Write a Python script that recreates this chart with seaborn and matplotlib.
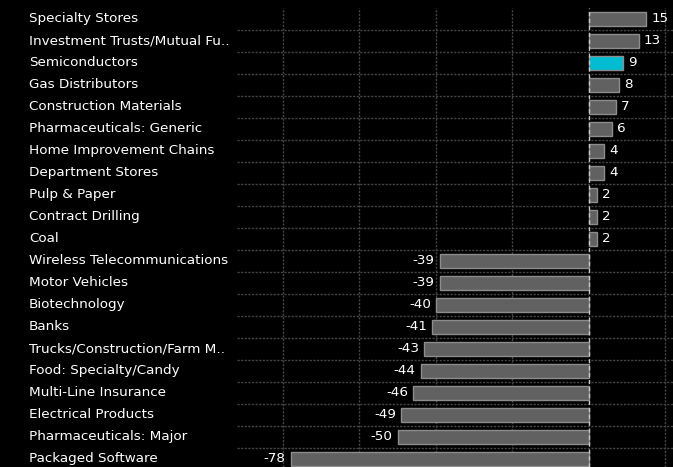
import matplotlib
matplotlib.use("Agg")
import matplotlib.pyplot as plt
import matplotlib.transforms as mtransforms
import seaborn as sns

categories = [
    "Specialty Stores", "Investment Trusts/Mutual Fu..", "Semiconductors",
    "Gas Distributors", "Construction Materials", "Pharmaceuticals: Generic",
    "Home Improvement Chains", "Department Stores", "Pulp & Paper",
    "Contract Drilling", "Coal", "Wireless Telecommunications",
    "Motor Vehicles", "Biotechnology", "Banks", "Trucks/Construction/Farm M..",
    "Food: Specialty/Candy", "Multi-Line Insurance", "Electrical Products",
    "Pharmaceuticals: Major", "Packaged Software",
]
values = [15, 13, 9, 8, 7, 6, 4, 4, 2, 2, 2, -39, -39, -40, -41, -43, -44,
          -46, -49, -50, -78]
highlight = "Semiconductors"

GRAY = "#616161"
CYAN = "#00bcd0"
FONT = ["Liberation Sans Narrow", "DejaVu Sans"]
FS = 9.7

sns.set_style("dark")
plt.rcParams["font.family"] = FONT

W, H = 673, 467
fig = plt.figure(figsize=(W / 100, H / 100), dpi=100, facecolor="black")
left_px, top_px = 237, 8
ax = fig.add_axes([left_px / W, 0, (W - left_px) / W, (H - top_px) / H])
ax.set_facecolor("black")

palette = {c: (CYAN if c == highlight else GRAY) for c in categories}
sns.barplot(x=values, y=categories, hue=categories, palette=palette,
            legend=False, orient="h", width=0.66, edgecolor="#8c8c8c",
            linewidth=1.0, saturation=1, ax=ax, zorder=3)

ax.set_xlim(-92, 22)
ax.set_ylim(20.364, -0.5)

# grid
GRID = "#444444"
for xv in range(-80, 21, 20):
    if xv == 0:
        ax.axvline(0, color="#c8c8c8", lw=1.0, ls=(0, (3, 2)), zorder=4)
    else:
        ax.axvline(xv, color=GRID, lw=1.0, ls=(0, (1.6, 1.0)), zorder=1)
for i in range(len(categories) - 1):
    ax.axhline(i + 0.5, color=GRID, lw=1.0, ls=(0, (1.6, 1.0)), zorder=1)

for s in ax.spines.values():
    s.set_visible(False)
ax.set_xticks([])
ax.set_yticks([])
ax.set_xlabel("")
ax.set_ylabel("")

# category labels
trans = mtransforms.blended_transform_factory(fig.transFigure, ax.transData)
for i, c in enumerate(categories):
    ax.text(29 / W, i, c, transform=trans, ha="left", va="center",
            color="white", fontsize=FS, clip_on=False)

# value labels
off = mtransforms.ScaledTranslation(5 / 100, 0, fig.dpi_scale_trans)
off_n = mtransforms.ScaledTranslation(-5 / 100, 0, fig.dpi_scale_trans)
for i, v in enumerate(values):
    if v >= 0:
        ax.text(v, i, f"{v}", ha="left", va="center", color="white",
                fontsize=FS, transform=ax.transData + off, zorder=5)
    else:
        ax.text(v, i, f"{v}", ha="right", va="center", color="white",
                fontsize=FS, transform=ax.transData + off_n, zorder=5)

fig.savefig("out.png", dpi=100, facecolor="black")
